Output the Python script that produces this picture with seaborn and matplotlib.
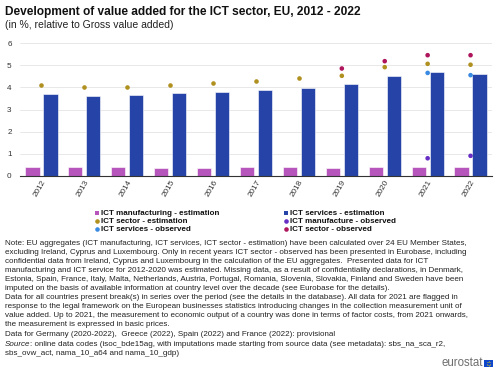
import numpy as np
import pandas as pd
import seaborn as sns
import matplotlib.pyplot as plt
from matplotlib.lines import Line2D

# data (% of gross value added)
years = [str(y) for y in range(2012, 2023)]
manuf_est = [0.41, 0.41, 0.41, 0.36, 0.36, 0.39, 0.39, 0.35, 0.39, 0.41, 0.41]
services_est = [3.69, 3.60, 3.64, 3.75, 3.79, 3.87, 3.99, 4.14, 4.52, 4.70, 4.59]
sector_est = [4.10, 4.00, 4.03, 4.12, 4.19, 4.29, 4.40, 4.52, 4.91, 5.06, 5.02]
manuf_obs = [np.nan] * 9 + [0.80, 0.91]
services_obs = [np.nan] * 9 + [4.65, 4.55]
sector_obs = [np.nan] * 7 + [4.85, 5.18, 5.45, 5.45]

bar_names = ["ICT manufacturing - estimation", "ICT services - estimation"]
dot_names = ["ICT sector - estimation", "ICT manufacture - observed",
             "ICT services - observed", "ICT sector - observed"]
bar_colors = ["#B656BD", "#2644A7"]
dot_colors = ["#B09120", "#672DC4", "#388AE2", "#AF155C"]

notes = [
    "Note: EU aggregates (ICT manufacturing, ICT services, ICT sector - estimation) have been calculated over 24 EU Member States,",
    "excluding Ireland, Cyprus and Luxembourg. Only in recent years ICT sector - observed has been presented in Eurobase, including",
    "confidential data from Ireland, Cyprus and Luxembourg in the calculation of the EU aggregates.  Presented data for ICT",
    "manufacturing and ICT service for 2012-2020 was estimated. Missing data, as a result of confidentiality declarations, in Denmark,",
    "Estonia, Spain, France, Italy, Malta, Netherlands, Austria, Portugal, Romania, Slovenia, Slovakia, Finland and Sweden have been",
    "imputed on the basis of available information at country level over the decade (see Eurobase for the details).",
    "Data for all countries present break(s) in series over the period (see the details in the database). All data for 2021 are flagged in",
    "response to the legal framework on the European businesses statistics introducing changes in the collection measurement unit of",
    "value added. Up to 2021, the measurement to economic output of a country was done in terms of factor costs, from 2021 onwards,",
    "the measurement is expressed in basic prices.",
    "Data for Germany (2020-2022),  Greece (2022), Spain (2022) and France (2022): provisional",
]
note_y = [243.3, 252.3, 261.5, 270.5, 279.5, 288.3, 297.3, 306.2, 315.1, 324, 334.8]
source_lines = [
    ": online data codes (isoc_bde15ag, with imputations made starting from source data (see metadata): sbs_na_sca_r2,",
    "sbs_ovw_act, nama_10_a64 and nama_10_gdp)",
]
source_y = [344.5, 353.4]

bars = pd.DataFrame({
    "year": years * 2,
    "value": manuf_est + services_est,
    "series": [bar_names[0]] * 11 + [bar_names[1]] * 11,
})
dots = pd.DataFrame({
    "year": years * 4,
    "value": sector_est + manuf_obs + services_obs + sector_obs,
    "series": sum([[n] * 11 for n in dot_names], []),
}).dropna()

sns.set_theme(style="white")
plt.rcParams["font.family"] = ["Liberation Sans", "DejaVu Sans"]

W, H = 500, 373
fig = plt.figure(figsize=(W / 100, H / 100), dpi=100)
ax = fig.add_axes([20 / W, 1 - 176 / H, 472 / W, 133 / H])


def fx(px):
    return px / W


def fy(py):
    return 1 - py / H


sns.barplot(data=bars, x="year", y="value", hue="series", order=years,
            hue_order=bar_names, palette=bar_colors, width=0.84, gap=0.21,
            errorbar=None, legend=False, edgecolor="white", linewidth=0.4,
            saturation=1, ax=ax)
sns.stripplot(data=dots, x="year", y="value", hue="series", order=years,
              hue_order=dot_names, palette=dot_colors, jitter=False, size=3.3,
              linewidth=0, legend=False, zorder=4, ax=ax)

ax.set_xlim(-0.5, len(years) - 0.5)
ax.set_ylim(0, 6)
ax.set_yticks(range(0, 7))
ax.set_xlabel("")
ax.set_ylabel("")
ax.yaxis.grid(True, color="#e4e4e4", linewidth=0.6)
ax.set_axisbelow(True)
for s in ["top", "right", "left"]:
    ax.spines[s].set_visible(False)
ax.spines["bottom"].set_color("#333333")
ax.spines["bottom"].set_linewidth(0.8)
ax.tick_params(axis="y", length=0, labelsize=5.9, labelcolor="#333333", pad=6)
ax.tick_params(axis="x", which="major", length=0, labelsize=5.9,
               labelcolor="#333333", pad=2)
ax.set_xticks(np.arange(-0.5, len(years)), minor=True)
ax.tick_params(axis="x", which="minor", length=3, width=0.6, color="#333333")
for lab in ax.get_xticklabels():
    lab.set_rotation(60)
    lab.set_ha("right")
    lab.set_va("top")
    lab.set_rotation_mode("anchor")

# titles
fig.text(fx(5), fy(12), "Development of value added for the ICT sector, EU, 2012 - 2022",
         fontsize=8.6, fontweight="bold", color="#111111", va="center")
fig.text(fx(5), fy(24.5), "(in %, relative to Gross value added)",
         fontsize=7.5, color="#222222", va="center")

# legend, two columns placed by hand
legend_rows = [
    (bar_names[0], bar_colors[0], "s", 97, 213.3),
    (bar_names[1], bar_colors[1], "s", 286, 213.3),
    (dot_names[0], dot_colors[0], "o", 97, 221.3),
    (dot_names[1], dot_colors[1], "o", 286, 221.3),
    (dot_names[2], dot_colors[2], "o", 97, 229.3),
    (dot_names[3], dot_colors[3], "o", 286, 229.3),
]
for name, color, marker, xp, yp in legend_rows:
    fig.add_artist(Line2D([fx(xp)], [fy(yp)], transform=fig.transFigure,
                          marker=marker, linestyle="none", color=color,
                          markersize=3.3, markeredgewidth=0))
    fig.text(fx(xp + 4), fy(yp), name, fontsize=5.8, fontweight="bold",
             color="#111111", va="center")

# notes
fs = 5.8
for line, y in zip(notes, note_y):
    fig.text(fx(5), fy(y), line, fontsize=fs, color="#222222", va="center")
src = fig.text(fx(5), fy(source_y[0]), "Source", fontsize=fs, style="italic",
               color="#222222", va="center")
fig.canvas.draw()
bb = src.get_window_extent()
fig.text((bb.x1 - 1) / W, fy(source_y[0]), source_lines[0], fontsize=fs,
         color="#222222", va="center")
fig.text(fx(5), fy(source_y[1]), source_lines[1], fontsize=fs,
         color="#222222", va="center")

# eurostat logo
fig.text(fx(483), fy(363), "eurostat", fontsize=8.3, color="#6e6e6e",
         ha="right", va="center")
flag = fig.add_axes([fx(484), fy(367), 9 / W, 7 / H])
flag.set_facecolor("#0E47CB")
ang = np.linspace(0, 2 * np.pi, 12, endpoint=False)
flag.scatter(np.cos(ang) * 0.6, np.sin(ang) * 0.6, s=0.15, color="#FFDD00",
             marker="o", linewidths=0)
flag.set_xlim(-1.4, 1.4)
flag.set_ylim(-1, 1)
flag.set_xticks([])
flag.set_yticks([])
for s in flag.spines.values():
    s.set_visible(False)

fig.savefig("out.png", dpi=100)
